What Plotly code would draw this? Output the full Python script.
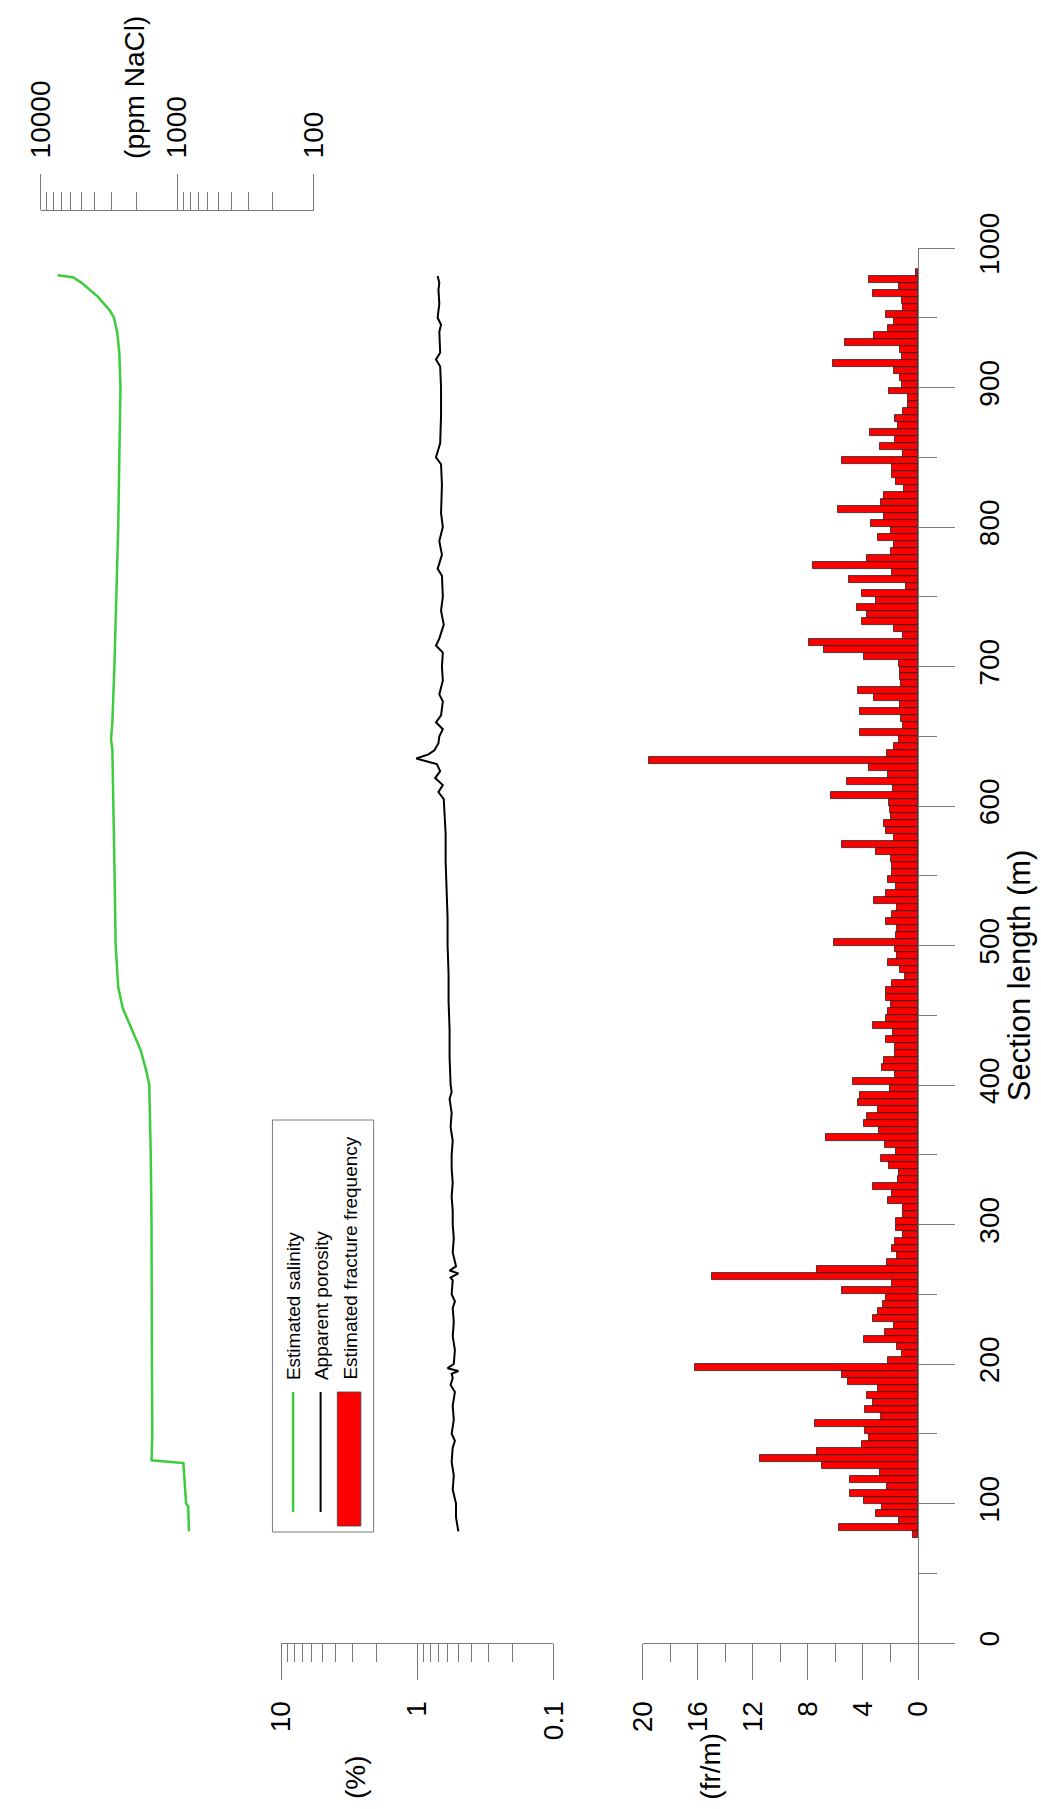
import plotly.graph_objects as go

# ---------------- data ----------------
# fracture-frequency bins (start of each 5 m bin, m)
bin_start = [
    75, 80, 85, 90, 95, 100, 105, 110, 115, 120,
    125, 130, 135, 140, 145, 150, 155, 160, 165, 170,
    175, 180, 185, 190, 195, 200, 205, 210, 215, 220,
    225, 230, 235, 240, 245, 250, 255, 260, 265, 270,
    275, 280, 285, 290, 295, 300, 305, 310, 315, 320,
    325, 330, 335, 340, 345, 350, 355, 360, 365, 370,
    375, 380, 385, 390, 395, 400, 405, 410, 415, 420,
    425, 430, 435, 440, 445, 450, 455, 460, 465, 470,
    475, 480, 485, 490, 495, 500, 505, 510, 515, 520,
    525, 530, 535, 540, 545, 550, 555, 560, 565, 570,
    575, 580, 585, 590, 595, 600, 605, 610, 615, 620,
    625, 630, 635, 640, 645, 650, 655, 660, 665, 670,
    675, 680, 685, 690, 695, 700, 705, 710, 715, 720,
    725, 730, 735, 740, 745, 750, 755, 760, 765, 770,
    775, 780, 785, 790, 795, 800, 805, 810, 815, 820,
    825, 830, 835, 840, 845, 850, 855, 860, 865, 870,
    875, 880, 885, 890, 895, 900, 905, 910, 915, 920,
    925, 930, 935, 940, 945, 950, 955, 960, 965, 970,
    975, 980,
]
fracture_freq = [
    0.38, 5.74, 1.39, 3.06, 2.63, 3.97, 4.98, 2.27, 4.98, 2.80,
    6.96, 11.46, 7.32, 4.09, 3.54, 3.83, 7.49, 2.70, 3.83, 3.30,
    3.70, 2.92, 5.10, 5.50, 16.24, 2.18, 1.20, 1.53, 3.97, 2.44,
    1.75, 3.30, 2.90, 2.56, 2.32, 5.57, 1.87, 14.95, 7.37, 2.27,
    1.50, 1.87, 1.70, 1.08, 1.63, 1.58, 1.12, 1.12, 2.18, 1.87,
    3.30, 1.46, 1.39, 2.13, 2.70, 1.60, 2.42, 6.72, 2.82, 3.90,
    3.70, 2.92, 4.38, 4.19, 2.03, 4.71, 1.65, 2.60, 2.49, 1.65,
    1.65, 2.30, 1.80, 3.30, 2.34, 2.22, 1.99, 2.30, 2.30, 1.91,
    0.98, 1.32, 2.18, 1.50, 1.70, 6.10, 1.60, 1.50, 2.30, 1.87,
    1.50, 3.23, 2.34, 1.60, 2.22, 1.87, 1.87, 1.99, 3.06, 5.50,
    1.79, 2.34, 2.51, 1.99, 2.03, 2.15, 6.34, 1.80, 5.14, 2.18,
    3.54, 19.57, 2.27, 1.79, 1.39, 4.19, 1.12, 1.27, 4.26, 1.34,
    3.18, 4.38, 1.27, 1.34, 1.34, 1.39, 3.92, 6.87, 7.92, 1.12,
    1.75, 4.07, 3.70, 4.43, 3.06, 4.07, 0.91, 5.00, 1.87, 7.66,
    3.73, 1.99, 1.75, 2.90, 1.99, 3.42, 2.46, 5.86, 2.70, 2.46,
    1.03, 1.60, 1.87, 1.87, 5.57, 1.10, 2.75, 1.70, 3.52, 1.46,
    1.67, 1.10, 0.74, 0.74, 2.13, 1.15, 1.32, 1.75, 6.20, 1.15,
    1.34, 5.29, 3.23, 2.18, 1.79, 2.30, 1.08, 1.20, 3.25, 1.39,
    3.54, 0.12,
]
bin_width = 5

# apparent porosity (%)
porosity_m = [
    80, 90, 100, 110, 120, 130, 140, 145, 150, 160, 170, 180, 185, 190,
    193, 195, 197, 200, 210, 220, 230, 240, 245, 250, 260, 262, 265, 267,
    270, 280, 290, 300, 310, 320, 330, 340, 350, 360, 370, 380, 390, 395,
    400, 420, 440, 460, 480, 500, 520, 540, 560, 580, 600, 605, 610, 615,
    620, 625, 630, 632, 634, 637, 640, 645, 650, 655, 660, 665, 675, 680,
    690, 700, 710, 715, 720, 730, 740, 750, 765, 770, 780, 790, 800, 810,
    830, 845, 850, 860, 880, 900, 915, 920, 925, 940, 945, 950, 960, 970,
    975, 980,
]
porosity_pct = [
    0.50, 0.52, 0.52, 0.55, 0.54, 0.56, 0.55, 0.53, 0.56, 0.54, 0.55, 0.53, 0.57, 0.55,
    0.56, 0.50, 0.60, 0.54, 0.53, 0.55, 0.54, 0.55, 0.53, 0.56, 0.55, 0.57, 0.50, 0.58,
    0.52, 0.55, 0.54, 0.55, 0.55, 0.56, 0.55, 0.56, 0.56, 0.55, 0.57, 0.56, 0.58, 0.56,
    0.57, 0.58, 0.58, 0.59, 0.59, 0.60, 0.60, 0.61, 0.62, 0.62, 0.63, 0.64, 0.70, 0.65,
    0.74, 0.68, 0.72, 0.88, 1.02, 0.83, 0.75, 0.70, 0.69, 0.65, 0.73, 0.67, 0.65, 0.69,
    0.65, 0.66, 0.65, 0.73, 0.69, 0.64, 0.67, 0.65, 0.66, 0.71, 0.66, 0.69, 0.65, 0.67,
    0.66, 0.67, 0.73, 0.68, 0.67, 0.67, 0.68, 0.73, 0.68, 0.69, 0.67, 0.71, 0.69, 0.70,
    0.69, 0.71,
]

# estimated salinity (ppm NaCl)
salinity_m = [
    80, 98, 100, 115, 129, 131, 150, 200, 250, 300, 350, 400, 410, 425,
    440, 455, 470, 500, 550, 600, 640, 648, 660, 700, 750, 800, 850, 900,
    925, 940, 950, 955, 965, 975, 979, 980.5,
]
salinity_ppm = [
    820, 830, 860, 880, 900, 1540, 1520, 1530, 1530, 1540, 1560, 1600, 1680, 1850,
    2150, 2500, 2700, 2820, 2870, 2920, 2980, 3050, 2980, 2880, 2780, 2700, 2650, 2600,
    2650, 2750, 2900, 3100, 3800, 5000, 5800, 7500,
]

# tick labels
section_ticks = [0, 100, 200, 300, 400, 500, 600, 700, 800, 900, 1000]
freq_ticks = [0, 4, 8, 12, 16, 20]
poro_ticks = [0.1, 1, 10]
poro_ticktext = ["0.1", "1", "10"]
sal_ticks = [100, 1000, 10000]
sal_ticktext = ["100", "1000", "10000"]
legend_labels = ["Estimated salinity", "Apparent porosity", "Estimated fracture frequency"]

# ---------------- layout helpers ----------------
W, H = 1041, 1809
ML, MR, MT, MB = 0, 123, 210, 166
PW = W - ML - MR
PH = H - MT - MB


def px(x):
    return (x - ML) / PW


def py(y):
    return (H - MB - y) / PH


FONT = "Liberation Sans, Arial, Helvetica, sans-serif"
GRAY = "#7a7a7a"
GREEN = "#3ccc3c"
RED = "#ff0000"

bin_center = [b + bin_width / 2 for b in bin_start]

fig = go.Figure()

fig.add_trace(go.Bar(
    x=fracture_freq, y=bin_center, orientation="h", width=bin_width,
    marker=dict(color=RED, line=dict(color="#202020", width=0.8)),
    xaxis="x", yaxis="y", showlegend=False,
))
fig.add_trace(go.Scatter(
    x=porosity_pct, y=porosity_m, mode="lines",
    line=dict(color="black", width=2),
    xaxis="x2", yaxis="y", showlegend=False,
))
fig.add_trace(go.Scatter(
    x=salinity_ppm, y=salinity_m, mode="lines",
    line=dict(color=GREEN, width=2.5),
    xaxis="x3", yaxis="y", showlegend=False,
))

tickfont = dict(size=28, color="black", family=FONT)
base = dict(
    ticks="outside", ticklen=36, tickwidth=1, tickcolor=GRAY,
    showline=True, linecolor=GRAY, linewidth=1,
    showgrid=False, zeroline=False, tickfont=tickfont, tickangle=-90,
)
minor_base = dict(ticks="outside", ticklen=18, tickwidth=1, tickcolor=GRAY, showgrid=False)

poro_minor = [0.2, 0.3, 0.4, 0.5, 0.6, 0.7, 0.8, 0.9, 2, 3, 4, 5, 6, 7, 8, 9]
sal_minor = [200, 300, 400, 500, 600, 700, 800, 900,
             2000, 3000, 4000, 5000, 6000, 7000, 8000, 9000]

fig.update_layout(
    width=W, height=H,
    margin=dict(l=ML, r=MR, t=MT, b=MB, pad=0),
    paper_bgcolor="white", plot_bgcolor="rgba(0,0,0,0)",
    font=dict(family=FONT, color="black"),
    bargap=0,
    xaxis=dict(
        **base, domain=[px(638), 1], range=[20, 0], anchor="y",
        tickmode="array", tickvals=freq_ticks,
        minor=dict(**minor_base, dtick=2), ticklabelstandoff=10,
    ),
    xaxis2=dict(
        **base, domain=[px(270), px(547)], type="log", range=[1, -1], anchor="y",
        tickmode="array", tickvals=poro_ticks, ticktext=poro_ticktext,
        minor=dict(**minor_base, tickmode="array", tickvals=poro_minor),
        ticklabelstandoff=10,
    ),
    xaxis3=dict(
        **base, domain=[px(25), px(303)], type="log", range=[4, 2],
        anchor="free", position=1, side="top",
        tickmode="array", tickvals=sal_ticks, ticktext=sal_ticktext,
        minor=dict(**minor_base, tickmode="array", tickvals=sal_minor),
        ticklabelstandoff=10,
    ),
    yaxis=dict(
        **base, domain=[0, py(248)], range=[0, 1000], anchor="x", side="right",
        tickmode="array", tickvals=section_ticks,
        minor=dict(**minor_base, dtick=50), ticklabelstandoff=10,
    ),
)

# axis titles / unit labels
ann = [
    dict(text="Section length (m)", x=px(1021), y=py(975), size=31),
    dict(text="(ppm NaCl)", x=px(120), y=py(87), size=28),
    dict(text="(%)", x=px(345), y=py(1777), size=28),
    dict(text="(fr/m)", x=px(706), y=py(1766), size=28),
]
for a in ann:
    fig.add_annotation(
        text=a["text"], x=a["x"], y=a["y"], xref="paper", yref="paper",
        showarrow=False, textangle=-90, xanchor="center", yanchor="middle",
        font=dict(size=a["size"], family=FONT, color="black"),
    )

# legend (rotated, drawn manually)
fig.add_shape(type="rect", xref="paper", yref="paper",
              x0=px(261), x1=px(364), y0=py(1532), y1=py(1120),
              line=dict(color=GRAY, width=1), fillcolor="white", layer="below")
fig.add_shape(type="line", xref="paper", yref="paper",
              x0=px(282), x1=px(282), y0=py(1512), y1=py(1392),
              line=dict(color=GREEN, width=2.5))
fig.add_shape(type="line", xref="paper", yref="paper",
              x0=px(310), x1=px(310), y0=py(1512), y1=py(1392),
              line=dict(color="black", width=2))
fig.add_shape(type="rect", xref="paper", yref="paper",
              x0=px(327), x1=px(351), y0=py(1526), y1=py(1392),
              line=dict(color="#404040", width=0.8), fillcolor=RED)
for lab, xc in zip(legend_labels, [282, 311, 340]):
    fig.add_annotation(
        text=lab, x=px(xc), y=py(1382), xref="paper", yref="paper",
        showarrow=False, textangle=-90, xanchor="center", yanchor="bottom",
        font=dict(size=19, family=FONT, color="black"),
    )

fig.write_html("out.html")
